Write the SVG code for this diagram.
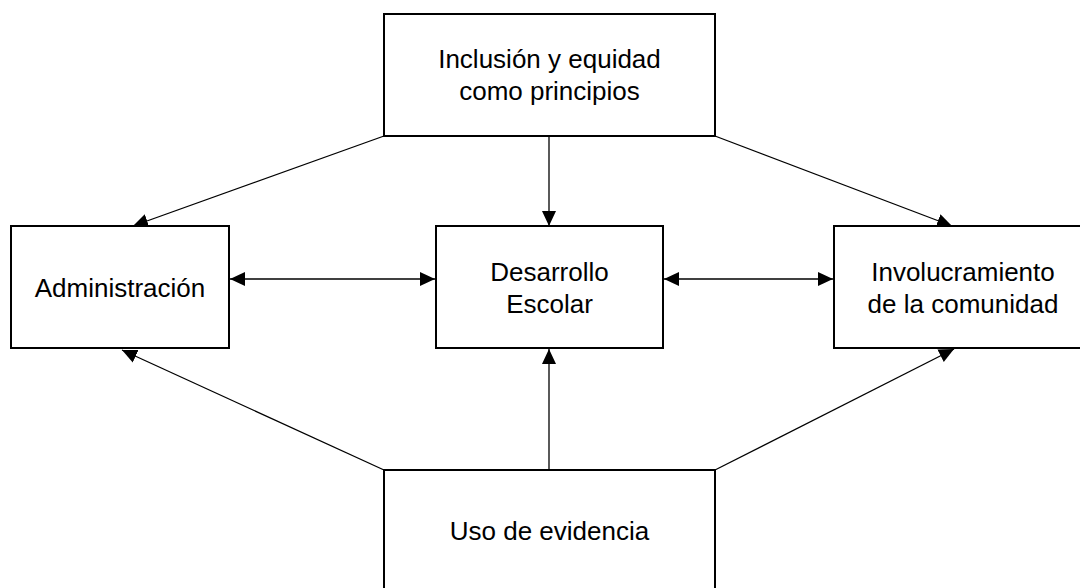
<svg xmlns="http://www.w3.org/2000/svg" width="1080" height="588" viewBox="0 0 1080 588">
<style>
.box{fill:#fff;stroke:#000;stroke-width:2}
.lbl{font-family:"Liberation Sans",Arial,sans-serif;font-size:26px;fill:#000;text-anchor:middle}
.con{stroke:#000;stroke-width:1.3;fill:none}
</style>
<defs>
<marker id="ah" markerUnits="userSpaceOnUse" markerWidth="16" markerHeight="16" refX="15" refY="7" orient="auto-start-reverse" viewBox="0 0 16 16">
<path d="M0,0 L15,7 L0,14 z" fill="#000"/>
</marker>
</defs>
<rect width="1080" height="588" fill="#fff"/>
<g id="connectors">
<line class="con" x1="549" y1="136" x2="549" y2="226" marker-end="url(#ah)"/>
<line class="con" x1="384" y1="136" x2="133" y2="226" marker-end="url(#ah)"/>
<line class="con" x1="715" y1="136" x2="952" y2="226" marker-end="url(#ah)"/>
<line class="con" x1="384" y1="470" x2="122" y2="350" marker-end="url(#ah)"/>
<line class="con" x1="549" y1="470" x2="549" y2="349" marker-end="url(#ah)"/>
<line class="con" x1="715" y1="470" x2="954" y2="349" marker-end="url(#ah)"/>
<line class="con" x1="230" y1="279" x2="435" y2="279" marker-start="url(#ah)" marker-end="url(#ah)"/>
<line class="con" x1="664" y1="279" x2="833" y2="279" marker-start="url(#ah)" marker-end="url(#ah)"/>
</g>
<g id="node-inclusion">
<rect class="box" x="384" y="14" width="331" height="122"/>
<text class="lbl" x="549.5" y="68">Inclusión y equidad</text>
<text class="lbl" x="549.5" y="100">como principios</text>
</g>
<g id="node-administracion">
<rect class="box" x="11" y="226" width="218" height="122"/>
<text class="lbl" x="120" y="297">Administración</text>
</g>
<g id="node-desarrollo">
<rect class="box" x="436" y="226" width="227" height="122"/>
<text class="lbl" x="549.5" y="281">Desarrollo</text>
<text class="lbl" x="549.5" y="313">Escolar</text>
</g>
<g id="node-involucramiento">
<rect class="box" x="834" y="226" width="258" height="122"/>
<text class="lbl" x="963" y="281">Involucramiento</text>
<text class="lbl" x="963" y="313">de la comunidad</text>
</g>
<g id="node-evidencia">
<rect class="box" x="384" y="470" width="331" height="122"/>
<text class="lbl" x="549.5" y="540">Uso de evidencia</text>
</g>
</svg>
